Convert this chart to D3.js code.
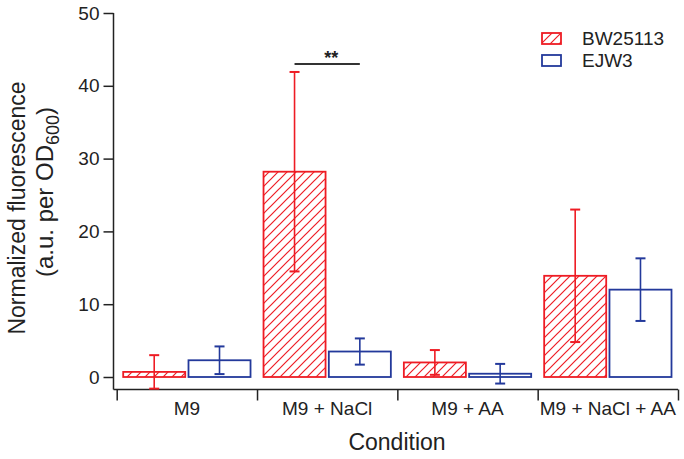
<!DOCTYPE html>
<html>
<head>
<meta charset="utf-8">
<script src="https://cdn.jsdelivr.net/npm/d3@7"></script>
<style>
html,body{margin:0;padding:0;background:#fff;}
svg{display:block;}
text{font-family:"Liberation Sans",Arial,sans-serif;fill:#222;}
</style>
</head>
<body>
<svg id="chart" width="684" height="459"></svg>
<script>
const categories = ["M9", "M9 + NaCl", "M9 + AA", "M9 + NaCl + AA"];
const seriesNames = ["BW25113", "EJW3"];
const bwValues = [0.7, 28.2, 2.0, 13.9];
const bwErrors = [2.3, 13.7, 1.7, 9.1];
const ejwValues = [2.3, 3.5, 0.45, 12.0];
const ejwErrors = [1.9, 1.8, 1.35, 4.3];
const yTicks = [0, 10, 20, 30, 40, 50];

const red = "#ee1c24", blue = "#23399b", ink = "#222";
const svg = d3.select("#chart");

const defs = svg.append("defs");
const hs = 9;
const pat = defs.append("pattern").attr("id","hatch").attr("patternUnits","userSpaceOnUse")
  .attr("width",hs).attr("height",hs);
pat.append("path").attr("d",`M-2,2 L2,-2 M0,${hs} L${hs},0 M${hs-2},${hs+2} L${hs+2},${hs-2}`)
  .attr("stroke",red).attr("stroke-width",1.2);

const x0 = 116.7, x1 = 678, axisY = 389.5;
const xBand = d3.scaleBand().domain(categories).range([x0, x1]).padding(0);
const xSub = d3.scaleBand().domain(seriesNames).range([6.5, xBand.bandwidth()-6.5]).paddingInner(0.05);
const y = d3.scaleLinear().domain([0, 50]).range([377, 13]);

// Y axis
const yAxis = svg.append("g").attr("transform","translate(113.5,0)")
  .call(d3.axisLeft(y).tickValues(yTicks).tickSize(10).tickPadding(4));
yAxis.select(".domain").remove();
yAxis.selectAll(".tick line").attr("stroke",ink).attr("stroke-width",1.5);
yAxis.selectAll(".tick text").style("font-size","19px").attr("fill",ink);
svg.append("line").attr("x1",113.5).attr("x2",113.5).attr("y1",y(50)).attr("y2",axisY)
  .attr("stroke",ink).attr("stroke-width",1.5);

// X axis
const xLin = d3.scaleLinear().domain([0, categories.length]).range([x0, x1]);
const xAxis = svg.append("g").attr("transform",`translate(0,${axisY})`)
  .call(d3.axisBottom(xLin).tickValues(d3.range(categories.length+1)).tickSize(11).tickFormat(""));
xAxis.select(".domain").remove();
xAxis.selectAll(".tick line").attr("stroke",ink).attr("stroke-width",1.5);
svg.append("line").attr("x1",113.5).attr("x2",x1).attr("y1",axisY).attr("y2",axisY)
  .attr("stroke",ink).attr("stroke-width",1.5);
svg.append("g").selectAll("text").data(categories).join("text")
  .attr("x", d => xBand(d) + xBand.bandwidth()/2).attr("y", 415)
  .attr("text-anchor","middle").style("font-size","19px").text(d => d);

// Bars
const series = [
  {name: "BW25113", values: bwValues, errors: bwErrors, color: red, fill: "url(#hatch)"},
  {name: "EJW3", values: ejwValues, errors: ejwErrors, color: blue, fill: "#fff"}
];
series.forEach(s => {
  const g = svg.append("g");
  categories.forEach((c, i) => {
    const bx = xBand(c) + xSub(s.name);
    const v = s.values[i], e = s.errors[i];
    g.append("rect").attr("x", bx).attr("y", y(v)).attr("width", xSub.bandwidth())
      .attr("height", y(0) - y(v)).attr("fill", s.fill).attr("stroke", s.color).attr("stroke-width",1.8);
    const cx = bx + xSub.bandwidth()/2;
    g.append("line").attr("x1",cx).attr("x2",cx).attr("y1",y(v+e)).attr("y2",y(v-e))
      .attr("stroke",s.color).attr("stroke-width",1.6);
    [v+e, v-e].forEach(t => g.append("line").attr("x1",cx-5).attr("x2",cx+5).attr("y1",y(t)).attr("y2",y(t))
      .attr("stroke",s.color).attr("stroke-width",2));
  });
});

// Significance
const sigC = categories[1];
const sx1 = xBand(sigC) + xSub("BW25113") + xSub.bandwidth()/2;
const sx2 = xBand(sigC) + xSub("EJW3") + xSub.bandwidth()/2;
svg.append("line").attr("x1",sx1).attr("x2",sx2).attr("y1",64).attr("y2",64).attr("stroke","#333").attr("stroke-width",2);
svg.append("text").attr("x",(sx1+sx2)/2+4).attr("y",64).attr("text-anchor","middle")
  .style("font-size","18px").style("font-weight","bold").text("**");

// Legend
const leg = svg.append("g");
series.forEach((s, i) => {
  const ly = 38.5 + i*22;
  leg.append("rect").attr("x",542).attr("y",ly-5.5).attr("width",19).attr("height",11)
    .attr("fill",s.fill).attr("stroke",s.color).attr("stroke-width",1.8);
  leg.append("text").attr("x",582).attr("y",ly).attr("dy","0.35em").style("font-size","19px").text(s.name);
});

// Axis titles
svg.append("text").attr("x",397).attr("y",450).attr("text-anchor","middle").style("font-size","23px").text("Condition");
const yt = svg.append("text").attr("transform","translate(17,208) rotate(-90)").attr("text-anchor","middle")
  .style("font-size","23px");
yt.append("tspan").attr("x",0).attr("dy","0.35em").text("Normalized fluorescence");
const yt2 = svg.append("text").attr("transform","translate(45,192) rotate(-90)").attr("text-anchor","middle")
  .style("font-size","24px");
yt2.append("tspan").attr("dy","0.35em").text("(a.u. per OD");
yt2.append("tspan").style("font-size","18px").attr("dy","0.3em").text("600");
yt2.append("tspan").attr("dy","-0.25em").text(")");
</script>
</body>
</html>
